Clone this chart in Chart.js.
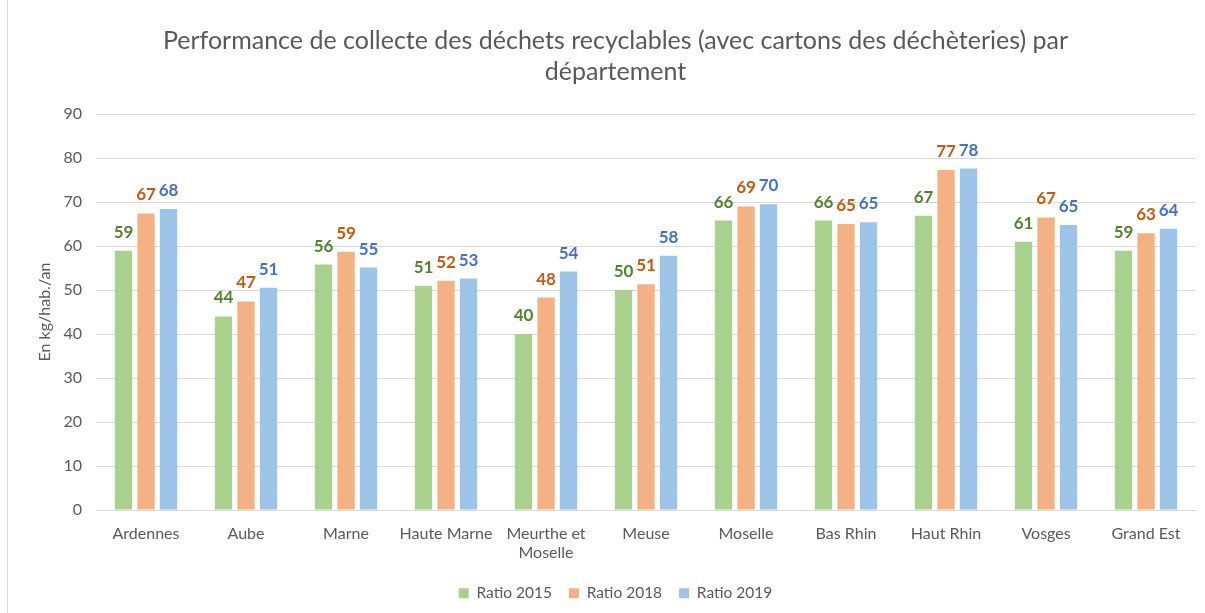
<!DOCTYPE html>
<html lang="fr">
<head>
  <meta charset="UTF-8">
  <title>Performance de collecte des déchets recyclables</title>
  <style>
    body {
      margin: 0;
      background: #fff;
      font-family: Lato, Arial, sans-serif;
    }
    .frame {
      position: absolute;
      left: 7px;
      top: 0;
      width: 1px;
      height: 613px;
      background: #d9d9d9;
    }
    .container {
      position: absolute;
      left: 8px;
      top: 0;
      width: 1197px;
      height: 613px;
    }
  </style>
</head>
<body>

<div class="frame"></div>
<div class="container">
  <canvas id="chart"></canvas>
</div>

<script src="https://cdn.jsdelivr.net/npm/chart.js"></script>
<script>
  // Données
  const departements = ['Ardennes', 'Aube', 'Marne', 'Haute Marne', ['Meurthe et', 'Moselle'],
    'Meuse', 'Moselle', 'Bas Rhin', 'Haut Rhin', 'Vosges', 'Grand Est'];
  const ratio2015 = [58.9, 44.0, 55.8, 51.0, 40.0, 50.0, 65.8, 65.8, 66.9, 61.0, 58.9];
  const ratio2018 = [67.4, 47.4, 58.7, 52.1, 48.3, 51.3, 69.0, 65.0, 77.3, 66.5, 62.9];
  const ratio2019 = [68.4, 50.5, 55.1, 52.6, 54.2, 57.8, 69.5, 65.4, 77.6, 64.8, 63.9];
  const yTicks = [0, 10, 20, 30, 40, 50, 60, 70, 80, 90];

  const grey = '#595959';

  // Etiquettes de valeur au-dessus des barres
  const valueLabels = {
    id: 'valueLabels',
    afterDatasetsDraw(chart) {
      const ctx = chart.ctx;
      ctx.save();
      ctx.font = 'bold 17px Lato, Arial, sans-serif';
      ctx.textAlign = 'center';
      ctx.textBaseline = 'alphabetic';
      chart.data.datasets.forEach((ds, i) => {
        chart.getDatasetMeta(i).data.forEach((bar, j) => {
          ctx.fillStyle = ds.labelColor;
          ctx.fillText(Math.round(ds.data[j]), bar.x, bar.y - 13);
        });
      });
      ctx.restore();
    }
  };

  const ctx = document.getElementById('chart').getContext('2d');
  new Chart(ctx, {
    type: 'bar',
    data: {
      labels: departements,
      datasets: [
        { label: 'Ratio 2015', data: ratio2015, backgroundColor: '#A9D18E', labelColor: '#548235' },
        { label: 'Ratio 2018', data: ratio2018, backgroundColor: '#F4B183', labelColor: '#C55A11' },
        { label: 'Ratio 2019', data: ratio2019, backgroundColor: '#9DC3E6', labelColor: '#4472C4' }
      ]
    },
    options: {
      responsive: true,
      maintainAspectRatio: false,
      animation: false,
      categoryPercentage: 0.675,
      barPercentage: 0.77,
      layout: { padding: { left: 27, right: 9, top: 10, bottom: 2 } },
      plugins: {
        title: {
          display: true,
          text: ['Performance de collecte des déchets recyclables (avec cartons des déchèteries) par', 'département'],
          color: grey,
          font: { family: 'Lato, Arial, sans-serif', size: 25, weight: 'normal', lineHeight: 1.24 },
          padding: { top: 15, bottom: 27 }
        },
        legend: {
          position: 'bottom',
          labels: {
            color: grey,
            boxWidth: 10,
            boxHeight: 10,
            padding: 17,
            font: { family: 'Lato, Arial, sans-serif', size: 15.5 }
          }
        },
        tooltip: { enabled: false }
      },
      scales: {
        x: {
          grid: { display: false },
          border: { color: '#d9d9d9' },
          ticks: {
            color: grey,
            font: { family: 'Lato, Arial, sans-serif', size: 16 },
            maxRotation: 0,
            padding: 6
          }
        },
        y: {
          min: 0,
          max: 90,
          afterBuildTicks(axis) {
            axis.ticks = yTicks.map(v => ({ value: v }));
          },
          afterFit(axis) {
            axis.width = 61;
          },
          grid: { color: '#d9d9d9', drawTicks: false },
          border: { display: false },
          ticks: {
            color: grey,
            font: { family: 'Lato, Arial, sans-serif', size: 16 },
            padding: 14
          },
          title: {
            display: true,
            text: 'En kg/hab./an',
            color: grey,
            font: { family: 'Lato, Arial, sans-serif', size: 16 },
            padding: { top: 0, bottom: 0 }
          }
        }
      }
    },
    plugins: [valueLabels]
  });
</script>

</body>
</html>
